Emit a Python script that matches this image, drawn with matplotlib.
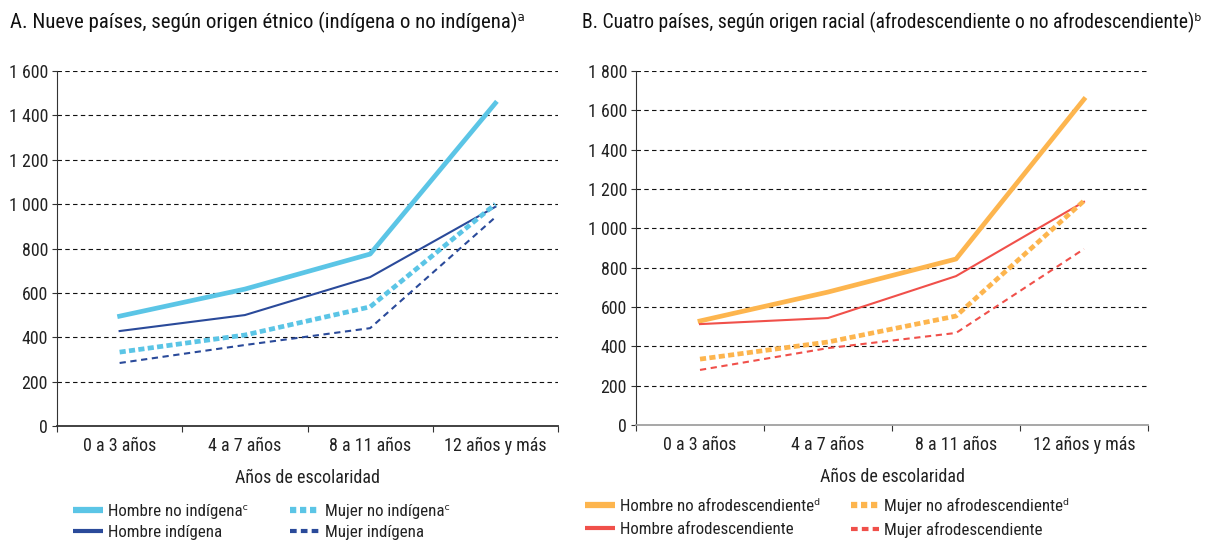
import matplotlib
matplotlib.use("Agg")
import matplotlib.pyplot as plt
from matplotlib.ticker import FuncFormatter
from matplotlib.lines import Line2D
import logging
logging.getLogger('matplotlib.font_manager').setLevel(logging.ERROR)

plt.rcParams['font.family'] = ['Roboto Condensed', 'Roboto', 'DejaVu Sans']
plt.rcParams['font.stretch'] = 'condensed'

categories = ["0 a 3 años", "4 a 7 años", "8 a 11 años", "12 años y más"]

# Panel A
a_hombre_no_ind = [495, 617, 775, 1455]
a_hombre_ind = [428, 500, 671, 988]
a_mujer_no_ind = [333, 410, 537, 1000]
a_mujer_ind = [284, 365, 441, 941]

# Panel B
b_hombre_no_afro = [529, 676, 844, 1656]
b_hombre_afro = [513, 544, 757, 1135]
b_mujer_no_afro = [335, 422, 554, 1140]
b_mujer_afro = [280, 391, 468, 895]

light_blue = "#5BC5E6"
navy = "#2A4A9A"
orange = "#FDB54E"
red = "#F0504A"
txt = "#222222"

fig = plt.figure(figsize=(12.16, 5.42), dpi=100)
W, H = 1216, 542
renderer = fig.canvas.get_renderer()

def fit(text, target_px, base=12.0, cap=None):
    t = fig.text(0, 0, text, fontsize=base)
    w = t.get_window_extent(renderer).width
    t.remove()
    s = base * target_px / w
    if cap is not None:
        s = min(s, cap)
    return s

titleA = "A. Nueve países, según origen étnico (indígena o no indígena)ᵃ"
titleB = "B. Cuatro países, según origen racial (afrodescendiente o no afrodescendiente)ᵇ"
titleA_fs = fit(titleA, 527, cap=15)
titleB_fs = fit(titleB, 621, cap=15)
tick_fs = min(fit("12 años y más", 93) * 1.1, 13)
ytick_fs = min(fit("1 600", 38) * 1.03, 13)
xlabel_fs = min(fit("Años de escolaridad", 140) * 1.1, 13)
leg_fs = min(fit("Hombre no afrodescendienteᵈ", 178) * 1.12, 13)

def fmt(v, pos):
    v = int(round(v))
    if v >= 1000:
        return f"{v//1000} {v%1000:03d}"
    return str(v)

def setup(ax, ymax, bottom_color):
    ax.set_xlim(0, 4)
    ax.set_ylim(0, ymax)
    ax.set_yticks(range(0, ymax + 1, 200))
    ax.yaxis.set_major_formatter(FuncFormatter(fmt))
    ax.set_xticks([0, 1, 2, 3, 4])
    ax.set_xticklabels([])
    ax.set_xticks([0.5, 1.5, 2.5, 3.5], minor=True)
    ax.set_xticklabels(categories, minor=True)
    ax.tick_params(axis='x', which='minor', length=0, labelsize=tick_fs, pad=8, colors=txt)
    ax.tick_params(axis='x', which='major', length=4, direction='out', color='#333333')
    ax.tick_params(axis='y', length=3.5, direction='out', labelsize=ytick_fs, colors=txt,
                   pad=3, color='#333333')
    for y in range(200, ymax + 1, 200):
        ax.axhline(y, color='#111111', lw=0.8, ls=(0, (4, 3)), zorder=0)
    ax.spines['top'].set_visible(False)
    ax.spines['right'].set_visible(False)
    ax.spines['left'].set_color('#333333')
    ax.spines['bottom'].set_color(bottom_color)
    ax.spines['bottom'].set_linewidth(1.3)
    ax.set_xlabel("Años de escolaridad", fontsize=xlabel_fs, color=txt, labelpad=10)

x = [0.5, 1.5, 2.5, 3.5]
thick = 3.4
thin = 1.5
thick_dash = (0, (1.3, 0.7))
thin_dash = (0, (3, 2.2))

axA = fig.add_axes([57 / W, 1 - 426 / H, (558 - 57) / W, (426 - 71) / H])
setup(axA, 1600, '#333333')
lA1, = axA.plot(x, a_hombre_no_ind, color=light_blue, lw=thick, label="Hombre no indígenaᶜ")
lA2, = axA.plot(x, a_hombre_ind, color=navy, lw=thin, label="Hombre indígena")
lA3, = axA.plot(x, a_mujer_no_ind, color=light_blue, lw=thick, ls=thick_dash, label="Mujer no indígenaᶜ")
lA4, = axA.plot(x, a_mujer_ind, color=navy, lw=thin, ls=thin_dash, label="Mujer indígena")

axB = fig.add_axes([636 / W, 1 - 425 / H, (1148 - 636) / W, (425 - 71) / H])
setup(axB, 1800, '#A0A0A0')
lB1, = axB.plot(x, b_hombre_no_afro, color=orange, lw=thick, label="Hombre no afrodescendienteᵈ")
lB2, = axB.plot(x, b_hombre_afro, color=red, lw=thin, label="Hombre afrodescendiente")
lB3, = axB.plot(x, b_mujer_no_afro, color=orange, lw=thick, ls=thick_dash, label="Mujer no afrodescendienteᵈ")
lB4, = axB.plot(x, b_mujer_afro, color=red, lw=thin, ls=thin_dash, label="Mujer afrodescendiente")

fig.text(10 / W, 1 - 22 / H, titleA, fontsize=titleA_fs, va='center', ha='left', color='#111111')
fig.text(582 / W, 1 - 22 / H, titleB, fontsize=titleB_fs, va='center', ha='left', color='#111111')

fs_px = leg_fs * 100 / 72

def leg(handles, x0, x_text, ymid, spacing):
    hs = []
    for h in handles:
        ls = h.get_linestyle()
        lw = 4.5 if h.get_linewidth() > 2 else 3.0
        dash = (0, (1.0, 0.6)) if ls != '-' and lw > 4 else ((0, (1.6, 1.0)) if ls != '-' else '-')
        hs.append(Line2D([], [], color=h.get_color(), lw=lw, ls=dash, solid_capstyle='butt',
                         dash_capstyle='butt'))
    hl = (x_text - x0 - 5) / fs_px
    lg = fig.legend(hs, [h.get_label() for h in handles], loc='center left',
                    bbox_to_anchor=(x0 / W, 1 - ymid / H), frameon=False, fontsize=leg_fs,
                    handlelength=hl, handletextpad=5 / fs_px, labelspacing=spacing,
                    borderpad=0, borderaxespad=0)
    for t in lg.get_texts():
        t.set_color(txt)
    return lg

leg([lA1, lA2], 73, 108, 522, 0.4)
leg([lA3, lA4], 290, 325, 522, 0.4)
leg([lB1, lB2], 585, 620, 518, 0.5)
leg([lB3, lB4], 851, 884, 518, 0.5)

fig.savefig("out.png", dpi=100)
